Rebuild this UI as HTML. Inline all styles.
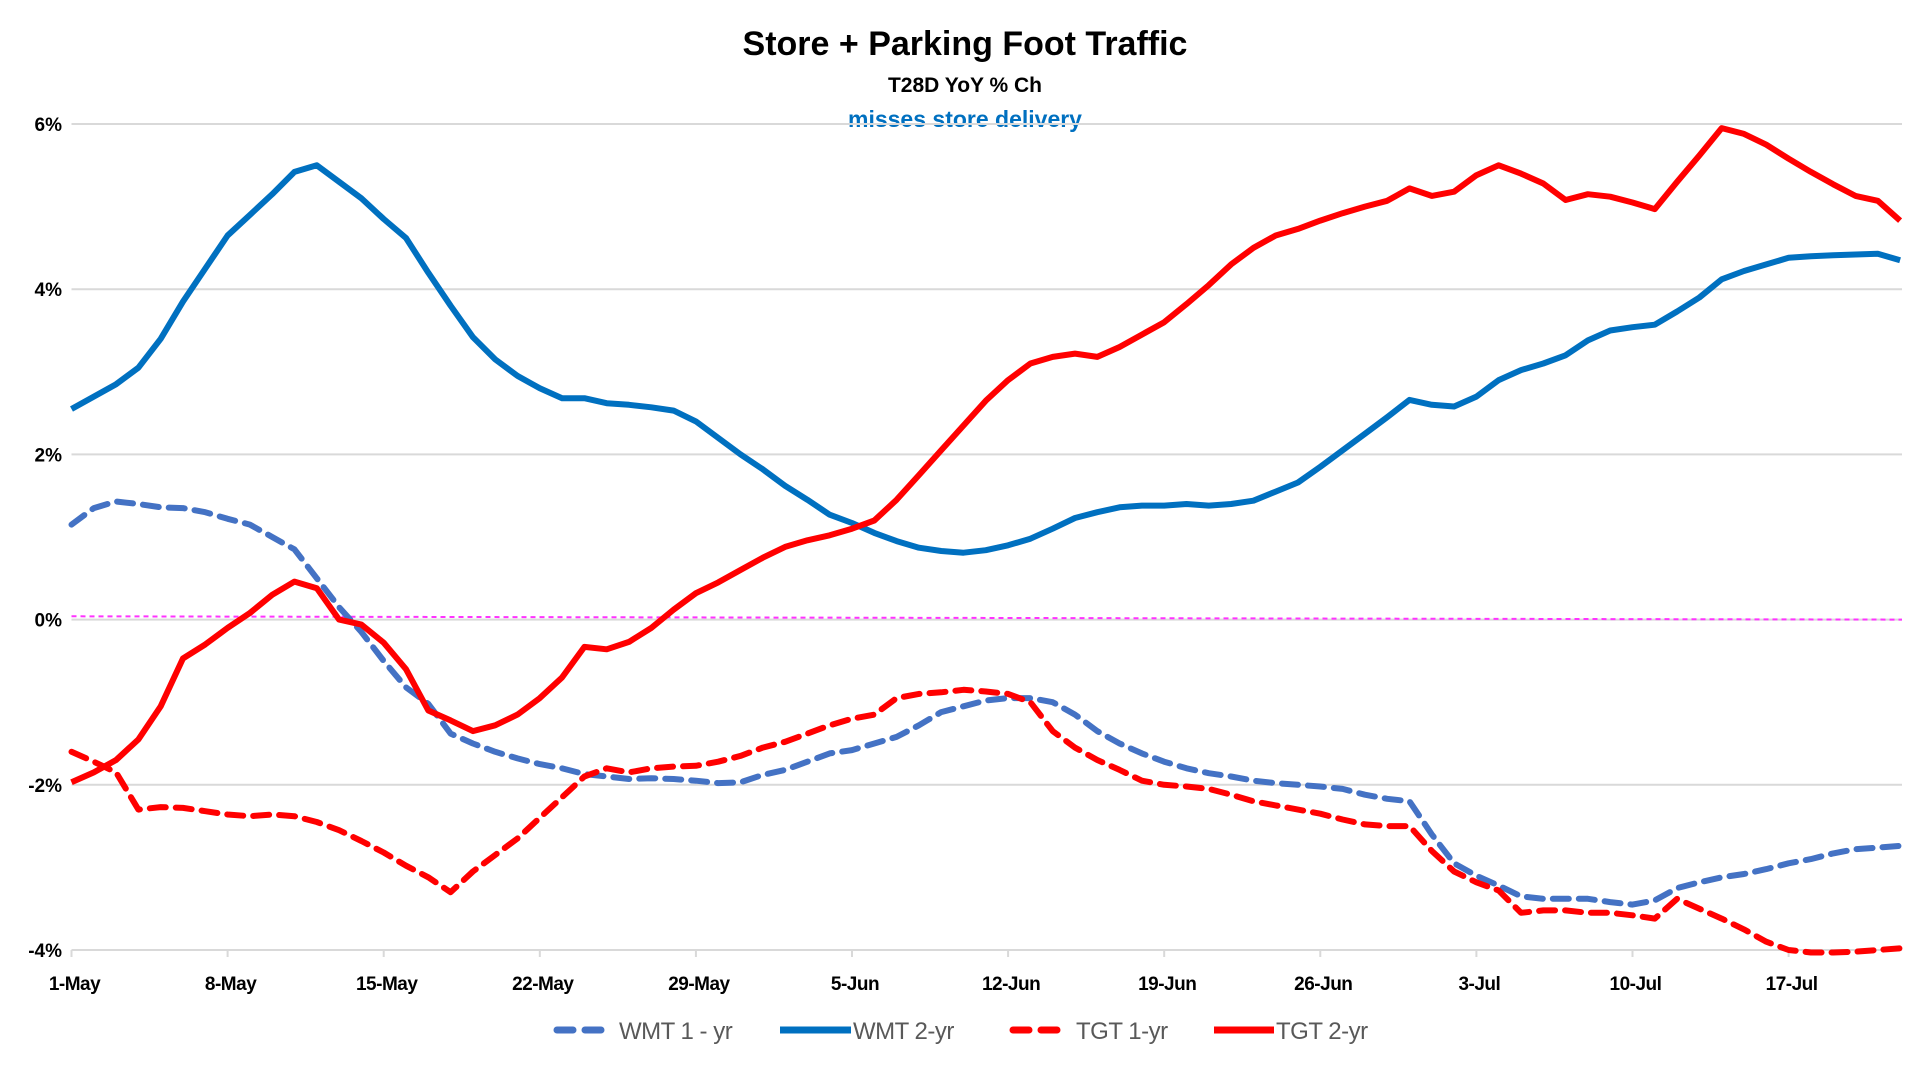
<!DOCTYPE html>
<html><head><meta charset="utf-8"><style>
html,body{margin:0;padding:0;background:#fff;}
svg text{font-family:"Liberation Sans",sans-serif;}
</style></head><body>
<svg id="chart" width="1924" height="1064" xmlns="http://www.w3.org/2000/svg">
<text x="965" y="55" text-anchor="middle" font-size="34" font-weight="bold" fill="#000">Store + Parking Foot Traffic</text>
<text x="965" y="92" text-anchor="middle" font-size="21" font-weight="bold" fill="#000">T28D YoY % Ch</text>
<text x="965" y="127" text-anchor="middle" font-size="23" font-weight="bold" fill="#0070C0">misses store delivery</text>
<g id="grid"></g><g id="axes"></g><g id="series"></g><g id="legend"></g>
</svg>
<script>
const yTicks = [6, 4, 2, 0, -2, -4];
const xTickLabels = ["1-May","8-May","15-May","22-May","29-May","5-Jun","12-Jun","19-Jun","26-Jun","3-Jul","10-Jul","17-Jul"];
const wmt1 = [1.15,1.35,1.43,1.4,1.36,1.35,1.3,1.22,1.15,1.0,0.85,0.5,0.15,-0.15,-0.5,-0.82,-1.02,-1.38,-1.5,-1.6,-1.68,-1.75,-1.8,-1.87,-1.9,-1.93,-1.92,-1.93,-1.95,-1.98,-1.97,-1.88,-1.82,-1.72,-1.62,-1.58,-1.5,-1.42,-1.28,-1.12,-1.05,-0.98,-0.95,-0.95,-1.0,-1.15,-1.35,-1.5,-1.62,-1.72,-1.8,-1.86,-1.9,-1.95,-1.98,-2.0,-2.02,-2.05,-2.12,-2.17,-2.2,-2.6,-2.95,-3.1,-3.22,-3.35,-3.38,-3.38,-3.38,-3.42,-3.45,-3.4,-3.25,-3.18,-3.12,-3.08,-3.02,-2.95,-2.9,-2.83,-2.78,-2.76,-2.74];
const wmt2 = [2.55,2.7,2.85,3.05,3.4,3.85,4.25,4.65,4.9,5.15,5.42,5.5,5.3,5.1,4.85,4.62,4.2,3.8,3.42,3.15,2.95,2.8,2.68,2.68,2.62,2.6,2.57,2.53,2.4,2.2,2.0,1.82,1.62,1.45,1.27,1.17,1.05,0.95,0.87,0.83,0.81,0.84,0.9,0.98,1.1,1.23,1.3,1.36,1.38,1.38,1.4,1.38,1.4,1.44,1.55,1.66,1.85,2.05,2.25,2.45,2.66,2.6,2.58,2.7,2.9,3.02,3.1,3.2,3.38,3.5,3.54,3.57,3.73,3.9,4.12,4.22,4.3,4.38,4.4,4.41,4.42,4.43,4.35];
const tgt1 = [-1.6,-1.72,-1.85,-2.3,-2.27,-2.28,-2.32,-2.36,-2.38,-2.36,-2.38,-2.45,-2.55,-2.68,-2.82,-2.98,-3.12,-3.3,-3.05,-2.85,-2.65,-2.4,-2.15,-1.9,-1.8,-1.85,-1.8,-1.78,-1.77,-1.72,-1.65,-1.55,-1.48,-1.38,-1.28,-1.2,-1.15,-0.95,-0.9,-0.88,-0.85,-0.87,-0.9,-1.0,-1.35,-1.55,-1.7,-1.82,-1.95,-2.0,-2.02,-2.05,-2.12,-2.2,-2.25,-2.3,-2.35,-2.42,-2.48,-2.5,-2.5,-2.8,-3.05,-3.18,-3.28,-3.55,-3.52,-3.52,-3.55,-3.55,-3.58,-3.62,-3.38,-3.5,-3.62,-3.75,-3.9,-4.0,-4.03,-4.03,-4.02,-4.0,-3.98];
const tgt2 = [-1.97,-1.85,-1.7,-1.45,-1.05,-0.47,-0.3,-0.1,0.08,0.3,0.46,0.38,0.0,-0.06,-0.28,-0.6,-1.1,-1.22,-1.35,-1.28,-1.15,-0.95,-0.7,-0.33,-0.36,-0.27,-0.1,0.12,0.32,0.45,0.6,0.75,0.88,0.96,1.02,1.1,1.2,1.45,1.75,2.05,2.35,2.65,2.9,3.1,3.18,3.22,3.18,3.3,3.45,3.6,3.82,4.05,4.3,4.5,4.65,4.73,4.83,4.92,5.0,5.07,5.22,5.13,5.18,5.38,5.5,5.4,5.28,5.08,5.15,5.12,5.05,4.97,5.3,5.62,5.95,5.88,5.75,5.58,5.42,5.27,5.13,5.07,4.83];
const zeroRef = [0.04, 0.0];

const NS = "http://www.w3.org/2000/svg";
const X0 = 71.5, DAY = 22.3, Y_TOP = 124, Y_BOT = 950, VMAX = 6, VMIN = -4, XR = 1902;
function xs(d){ return X0 + d*DAY; }
function ys(v){ return Y_TOP + (VMAX - v)/(VMAX - VMIN)*(Y_BOT - Y_TOP); }
function mk(tag, attrs, parent){ const e=document.createElementNS(NS,tag); for(const k in attrs) e.setAttribute(k,attrs[k]); parent.appendChild(e); return e; }

const grid=document.getElementById('grid'), axes=document.getElementById('axes'), ser=document.getElementById('series'), leg=document.getElementById('legend');
yTicks.forEach(t=>{
  const l=mk('line',{x1:X0,x2:XR,y1:ys(t),y2:ys(t),stroke:'#d9d9d9','stroke-width':2},grid);
  
  
  const tx=mk('text',{x:62,y:ys(t)+7,'text-anchor':'end','font-size':19,'font-weight':'bold',fill:'#000'},axes);
  tx.textContent=t+'%';
  
  
});
xTickLabels.forEach((lab,i)=>{
  const x=xs(i*7);
  const tk=mk('line',{x1:x,x2:x,y1:ys(-4),y2:ys(-4)+7,stroke:'#d9d9d9','stroke-width':2},axes);
  
  
  const tx=mk('text',{x:x+3,y:990,'text-anchor':'middle','font-size':19,'font-weight':'bold',fill:'#000','letter-spacing':'-0.5'},axes);
  tx.textContent=lab;
  
  
});
const zl=mk('line',{x1:X0,x2:XR,y1:ys(zeroRef[0]),y2:ys(zeroRef[1]),stroke:'#ff33ff','stroke-width':2,'stroke-dasharray':'5,4'},ser);



function pathOf(arr){ return arr.map((v,i)=>(i?'L':'M')+xs(i).toFixed(1)+','+ys(v).toFixed(1)).join(' '); }
const defs=[
  {d:wmt1,c:'#4472C4',dash:'16,10',name:'wmt-1yr-line',lab:'WMT 1 - yr',lx:557,lw:53,tx:619},
  {d:wmt2,c:'#0070C0',dash:'',name:'wmt-2yr-line',lab:'WMT 2-yr',lx:780,lw:71,tx:853},
  {d:tgt1,c:'#FF0000',dash:'16,10',name:'tgt-1yr-line',lab:'TGT 1-yr',lx:1013,lw:56,tx:1076},
  {d:tgt2,c:'#FF0000',dash:'',name:'tgt-2yr-line',lab:'TGT 2-yr',lx:1214,lw:60,tx:1276}
];
defs.forEach(s=>{
  const p=mk('path',{d:pathOf(s.d),fill:'none',stroke:s.c,'stroke-width':6,'stroke-linejoin':'round','stroke-linecap':s.dash?'round':'butt'},ser);
  if(s.dash) p.setAttribute('stroke-dasharray',s.dash);
  
  
  const g=mk('g',{},leg);
  
  
  const l=mk('line',{x1:s.lx,x2:s.lx+s.lw,y1:1030,y2:1030,stroke:s.c,'stroke-width':7,'stroke-linecap':s.dash?'round':'butt'},g);
  if(s.dash) l.setAttribute('stroke-dasharray','16,12');
  
  
  const t=mk('text',{x:s.tx,y:1039,'font-size':24,fill:'#595959','letter-spacing':'-0.5'},g);
  t.textContent=s.lab;
  
  
});
</script>
</body></html>
